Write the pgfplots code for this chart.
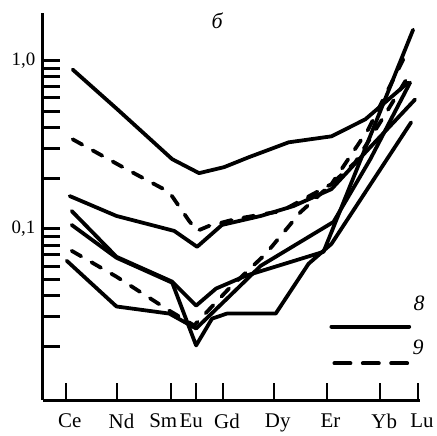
\documentclass[border=0pt]{standalone}
\usepackage{fontspec}
\setmainfont{Liberation Serif}
\usepackage{pgfplots}
\pgfplotsset{compat=1.18}

% x = position of each element along the axis, y = normalised content
\pgfplotstableread{
x y
73 0.885
118 0.513
173 0.2596
200 0.2145
225 0.2327
250 0.2667
290 0.327
333 0.355
367 0.448
410 0.741
}\solidA
\pgfplotstableread{
x y
70 0.1568
117 0.1194
175 0.0973
198 0.0783
223 0.1056
262 0.1194
295 0.1368
333 0.1724
370 0.2974
417 0.5878
}\solidB
\pgfplotstableread{
x y
72 0.1278
117 0.0683
173 0.0486
197 0.0350
217 0.0442
247 0.0527
325 0.0731
415 1.526
}\solidC
\pgfplotstableread{
x y
72 0.1056
117 0.0674
173 0.0479
197 0.0203
213 0.0293
228 0.0314
277 0.0314
310 0.0621
333 0.0815
413 0.4297
}\solidD
\pgfplotstableread{
x y
67 0.0647
117 0.0346
170 0.0314
197 0.0256
228 0.0385
262 0.0604
335 0.110
372 0.2596
412 0.741
}\solidE
\pgfplotstableread{
x y
73 0.3408
127 0.2265
170 0.1655
190 0.1115
198 0.0973
210 0.1042
237 0.1146
283 0.1278
333 0.1846
370 0.3906
410 1.162
}\dashA
\pgfplotstableread{
x y
72 0.0741
117 0.052
170 0.0327
195 0.0267
230 0.0442
267 0.0711
302 0.126
357 0.2491
390 0.513
413 0.861
}\dashB

\pgfplotsset{
  s8/.style={black, solid, no markers, line width=3.8pt, line join=round, line cap=round},
  s9/.style={s8, dash pattern=on 11pt off 12pt},
}

\begin{document}
\begin{tikzpicture}
\begin{axis}[
  scale only axis,
  width=379pt, height=389pt,
  ymode=log,
  xmin=43, xmax=422, ymin=0.0096, ymax=1.92,
  axis x line=bottom, axis y line=left,
  axis line style={-, line width=3.2pt},
  xtick={66,118,172,197,224,275,328,382,420},
  xticklabels={Ce,Nd,\hspace*{-24pt}Sm,\hspace*{-18pt}Eu,Gd,Dy,Er,Yb,Lu},
  ytick={0.1,1}, yticklabels={{0,1},{1,0}},
  minor ytick={0.02,0.03,0.04,0.05,0.06,0.07,0.08,0.09,0.2,0.3,0.4,0.5,0.6,0.7,0.8,0.9},
  tick align=inside,
  major tick length=17pt, minor tick length=17pt,
  y tick style={line width=3pt, black},
  minor y tick style={line width=3pt, black},
  x tick style={line width=2pt, black},
  xticklabel style={font=\fontsize{21}{21}\selectfont, xshift=4pt, yshift=-10pt},
  yticklabel style={font=\fontsize{19}{19}\selectfont, xshift=-4pt},
  /pgf/number format/assume math mode=true,
  clip=false,
]
\addplot[s8] table {\solidA};
\addplot[s8] table {\solidB};
\addplot[s8] table {\solidC};
\addplot[s8] table {\solidD};
\addplot[s8] table {\solidE};
\addplot[s9] table {\dashA};
\addplot[s9] table {\dashB};

% legend
\draw[line width=4pt, line cap=round] (axis cs:333,0.0263) -- (axis cs:411,0.0263);
\draw[line width=4pt, line cap=round, dash pattern=on 16pt off 12.5pt] (axis cs:336,0.01589) -- (axis cs:411,0.01589);
\node[font=\itshape\fontsize{22}{22}\selectfont] at (axis cs:421,0.036) {8};
\node[font=\itshape\fontsize{22}{22}\selectfont] at (axis cs:420,0.0198) {9};
\node[font=\itshape\fontsize{22}{22}\selectfont] at (axis cs:218,1.72) {б};

\coordinate (bl) at (rel axis cs:0,0);
\end{axis}
\path (bl) ++(-43pt,-33pt) rectangle ++(437pt,435pt);
\end{tikzpicture}
\end{document}
